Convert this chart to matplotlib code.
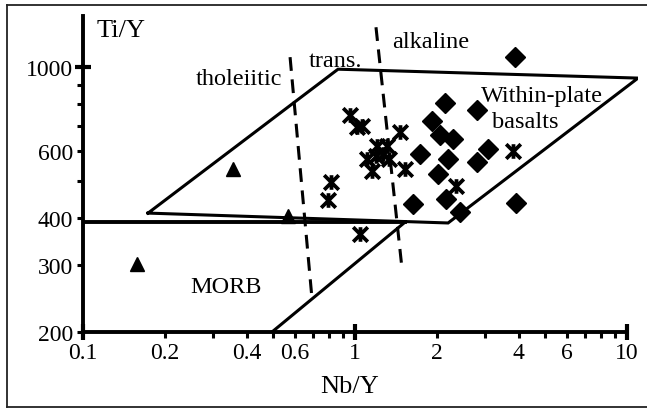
import matplotlib
matplotlib.use("Agg")
import matplotlib.pyplot as plt
from matplotlib.path import Path
from matplotlib.lines import Line2D

plt.rcParams['font.family'] = ['Liberation Serif', 'DejaVu Serif']

# sample groups (Nb/Y, Ti/Y)
tri_nb = [0.356, 0.158, 0.567]
tri_ti = [538, 302, 405]

star_nb = [0.959, 1.017, 1.061, 1.464, 1.205, 1.311, 1.107, 1.195, 1.267,
           1.155, 1.334, 1.527, 2.35, 3.81, 0.816, 0.795, 1.043]
star_ti = [748, 695, 699, 674, 619, 619, 572, 583, 590,
           532, 572, 538, 486, 601, 498, 446, 363]

dia_nb = [3.87, 2.14, 2.81, 1.92, 2.05, 2.29, 1.73, 2.20, 3.08, 2.81,
          2.02, 1.63, 2.16, 2.43, 3.91]
dia_ti = [1063, 804, 771, 721, 662, 646, 590, 572, 608, 562,
          522, 435, 449, 415, 438]

# field boundaries
wpb_nb = [0.1734, 0.866, 10.97, 2.198, 0.1734]
wpb_ti = [412, 988, 936, 388, 412]
morb_h_nb = [0.1, 1.527]
morb_h_ti = [390, 390]
morb_d_nb = [0.495, 1.527]
morb_d_ti = [200, 390]
thol_nb = [0.577, 0.695]
thol_ti = [1063, 244]
alk_nb = [1.194, 1.489]
alk_ti = [1275, 293]

xticks = [0.1, 0.2, 0.4, 0.6, 1, 2, 4, 6, 10]
xlabels = ['0.1', '0.2', '0.4', '0.6', '1', '2', '4', '6', '10']
xminor = [0.3, 0.5, 0.7, 0.8, 0.9, 3, 5, 7, 8, 9]
yticks = [200, 300, 400, 600, 1000]
yminor = [500, 700, 800, 900]

fig = plt.figure(figsize=(6.47, 4.10), dpi=100)
ax = fig.add_axes([0.1283, 0.1878, 0.8583, 0.7707])
ax.set_xscale('log')
ax.set_yscale('log')
ax.set_xlim(0.1, 11)
ax.set_ylim(200, 1365)

lw = 2.2
ax.plot(wpb_nb, wpb_ti, color='black', lw=lw, solid_joinstyle='miter')
ax.plot(morb_h_nb, morb_h_ti, color='black', lw=2.8)
ax.plot(morb_d_nb, morb_d_ti, color='black', lw=lw)
ax.plot(thol_nb, thol_ti, color='black', lw=lw, linestyle=(0, (4.5, 2.8)))
ax.plot(alk_nb, alk_ti, color='black', lw=lw, linestyle=(0, (4.5, 2.8)))

# X with a vertical bar through it
star = Path([(-1, -1), (1, 1), (-1, 1), (1, -1), (0, -1), (0, 1)],
            [Path.MOVETO, Path.LINETO, Path.MOVETO, Path.LINETO,
             Path.MOVETO, Path.LINETO])
ax.plot(tri_nb, tri_ti, '^', color='black', ms=10, ls='none')
ax.plot(star_nb, star_ti, marker=star, color='black', ms=10.5, mew=2.7,
        ls='none')
ax.plot(dia_nb, dia_ti, 'D', color='black', ms=10, ls='none')

tfs = 17.5
ax.text(0.3746, 902, 'tholeiitic', fontsize=tfs, ha='center', va='baseline')
ax.text(0.844, 1006, 'trans.', fontsize=tfs, ha='center', va='baseline')
ax.text(1.903, 1130, 'alkaline', fontsize=tfs, ha='center', va='baseline')
ax.text(4.87, 814, 'Within-plate', fontsize=tfs, ha='center', va='baseline')
ax.text(4.22, 695, 'basalts', fontsize=tfs, ha='center', va='baseline')
ax.text(0.3356, 255, 'MORB', fontsize=tfs, ha='center', va='baseline')

# axes: only left and bottom spines
for s in ['top', 'right']:
    ax.spines[s].set_visible(False)
ax.spines['left'].set_linewidth(2.8)
ax.spines['bottom'].set_linewidth(2.8)
ax.spines['bottom'].set_bounds(0.1, 10)

ax.set_xticks(xticks)
ax.set_xticklabels(xlabels)
ax.set_xticks(xminor, minor=True)
ax.set_yticks(yticks)
ax.set_yticklabels([str(v) for v in yticks])
ax.set_yticks(yminor, minor=True)
ax.xaxis.set_minor_formatter(plt.NullFormatter())
ax.yaxis.set_minor_formatter(plt.NullFormatter())
ax.tick_params(which='both', direction='out', length=4, width=2.2,
               labelsize=17, pad=3)

# long ticks that cross the axis line
for i, t in enumerate(ax.xaxis.get_major_ticks()):
    if xticks[i] in (0.1, 1, 10):
        t.tick1line.set_marker('|')
        t.tick1line.set_markersize(11)
        t.tick1line.set_markeredgewidth(3)
for i, t in enumerate(ax.yaxis.get_major_ticks()):
    if yticks[i] == 1000:
        t.tick1line.set_marker('_')
        t.tick1line.set_markersize(11)
        t.tick1line.set_markeredgewidth(3)

fig.text(0.150, 0.9098, 'Ti/Y', fontsize=19, ha='left', va='baseline')
fig.text(0.541, 0.0415, 'Nb/Y', fontsize=19, ha='center', va='baseline')

# open frame: left, top and bottom edges
x0, y0, y1 = 0.0108, 0.0049, 0.985
for xs, ys in [([x0, x0], [y0, y1]), ([x0, 1.0], [y1, y1]),
               ([x0, 1.0], [y0, y0])]:
    fig.add_artist(Line2D(xs, ys, transform=fig.transFigure,
                          color='#222222', lw=1.3))

fig.savefig('out.png', dpi=100)
